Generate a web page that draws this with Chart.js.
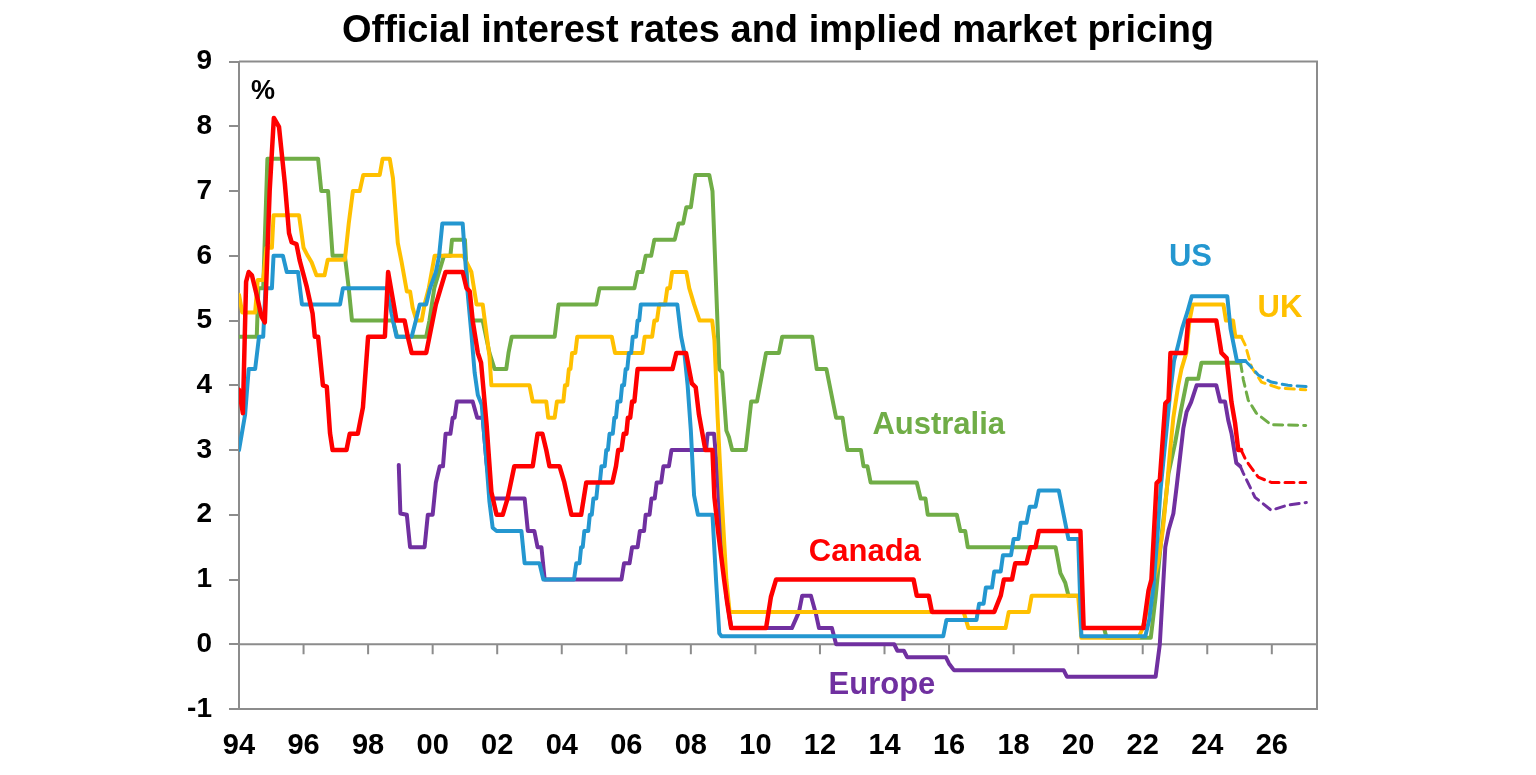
<!DOCTYPE html>
<html>
<head>
<meta charset="utf-8">
<script src="https://cdn.jsdelivr.net/npm/chart.js@4.4.1/dist/chart.umd.min.js"></script>
<style>
  html, body { margin: 0; padding: 0; background: #fff; }
  #wrap { width: 1536px; height: 775px; position: relative; }
</style>
</head>
<body>
<div id="wrap"><canvas id="myChart" width="1536" height="775"></canvas></div>
<script>
// policy rates, [year, %]
const usRate = [[1994.00,3.00],[1994.19,3.55],[1994.30,4.25],[1994.50,4.25],[1994.62,4.75],[1994.75,4.75],[1994.82,5.50],[1995.02,5.50],[1995.07,6.00],[1995.36,6.00],[1995.48,5.75],[1995.83,5.75],[1995.95,5.25],[1997.13,5.25],[1997.22,5.50],[1998.58,5.50],[1998.73,5.10],[1998.88,4.75],[1999.35,4.75],[1999.48,5.00],[1999.60,5.25],[1999.80,5.25],[1999.92,5.50],[2000.10,5.75],[2000.20,6.00],[2000.30,6.50],[2000.93,6.50],[2001.00,6.00],[2001.08,5.45],[2001.20,4.80],[2001.30,4.20],[2001.40,3.85],[2001.52,3.70],[2001.67,2.80],[2001.76,2.20],[2001.86,1.80],[2001.98,1.75],[2002.75,1.75],[2002.85,1.25],[2003.31,1.25],[2003.43,1.00],[2004.38,1.00],[2004.45,1.25],[2004.55,1.25],[2004.60,1.50],[2004.65,1.50],[2004.70,1.75],[2004.82,1.75],[2004.87,2.00],[2004.93,2.00],[2004.98,2.25],[2005.07,2.25],[2005.12,2.50],[2005.18,2.50],[2005.23,2.75],[2005.33,2.75],[2005.38,3.00],[2005.43,3.00],[2005.48,3.25],[2005.58,3.25],[2005.63,3.50],[2005.68,3.50],[2005.73,3.75],[2005.82,3.75],[2005.87,4.00],[2005.93,4.00],[2005.98,4.25],[2006.03,4.25],[2006.08,4.50],[2006.15,4.50],[2006.20,4.75],[2006.30,4.75],[2006.35,5.00],[2006.40,5.00],[2006.45,5.25],[2007.58,5.25],[2007.70,4.75],[2007.80,4.50],[2007.90,4.00],[2008.00,3.30],[2008.10,2.30],[2008.22,2.00],[2008.67,2.00],[2008.78,1.00],[2008.88,0.17],[2008.95,0.125],[2015.82,0.125],[2015.92,0.375],[2016.85,0.375],[2016.93,0.625],[2017.07,0.625],[2017.14,0.875],[2017.33,0.875],[2017.40,1.125],[2017.60,1.125],[2017.67,1.375],[2017.92,1.375],[2018.00,1.625],[2018.15,1.625],[2018.22,1.875],[2018.40,1.875],[2018.50,2.125],[2018.68,2.125],[2018.78,2.375],[2019.40,2.375],[2019.50,2.125],[2019.60,1.875],[2019.70,1.625],[2020.00,1.625],[2020.10,0.125],[2022.08,0.125],[2022.20,0.375],[2022.33,0.875],[2022.45,1.625],[2022.55,2.375],[2022.70,3.125],[2022.85,3.875],[2022.97,4.375],[2023.10,4.625],[2023.22,4.875],[2023.38,5.125],[2023.52,5.375],[2024.62,5.375],[2024.72,4.875],[2024.82,4.625],[2024.92,4.375],[2025.18,4.375]];
const usPricing = [[2025.18,4.375],[2025.37,4.28],[2025.58,4.16],[2025.98,4.05],[2026.50,4.00],[2027.07,3.98]];

const ukRate = [[1994.00,5.40],[1994.10,5.125],[1994.50,5.125],[1994.58,5.625],[1994.75,5.625],[1994.85,6.125],[1995.02,6.125],[1995.07,6.625],[1995.86,6.625],[1996.00,6.125],[1996.13,6.00],[1996.25,5.90],[1996.40,5.70],[1996.65,5.70],[1996.75,5.94],[1997.28,5.94],[1997.40,6.50],[1997.53,7.00],[1997.74,7.00],[1997.85,7.25],[1998.36,7.25],[1998.45,7.50],[1998.67,7.50],[1998.77,7.20],[1998.92,6.20],[1999.04,5.90],[1999.20,5.45],[1999.30,5.45],[1999.38,5.20],[1999.50,5.00],[1999.66,5.00],[1999.75,5.25],[1999.88,5.50],[1999.97,5.75],[2000.06,6.00],[2000.95,6.00],[2001.20,5.75],[2001.36,5.25],[2001.55,5.25],[2001.76,4.45],[2001.82,4.00],[2003.00,4.00],[2003.10,3.75],[2003.52,3.75],[2003.58,3.50],[2003.78,3.50],[2003.85,3.75],[2004.05,3.75],[2004.10,4.00],[2004.17,4.00],[2004.22,4.25],[2004.27,4.25],[2004.32,4.50],[2004.42,4.50],[2004.48,4.75],[2005.55,4.75],[2005.65,4.50],[2006.50,4.50],[2006.57,4.75],[2006.80,4.75],[2006.87,5.00],[2006.95,5.00],[2007.02,5.25],[2007.20,5.25],[2007.27,5.50],[2007.35,5.50],[2007.42,5.75],[2007.86,5.75],[2007.95,5.50],[2008.10,5.25],[2008.27,5.00],[2008.66,5.00],[2008.73,4.70],[2008.83,3.50],[2008.95,2.30],[2009.10,1.00],[2009.20,0.50],[2016.45,0.50],[2016.60,0.25],[2017.75,0.25],[2017.85,0.50],[2018.47,0.50],[2018.56,0.75],[2020.00,0.75],[2020.10,0.10],[2021.87,0.10],[2022.00,0.25],[2022.12,0.50],[2022.22,0.75],[2022.35,1.00],[2022.47,1.25],[2022.62,1.75],[2022.72,2.25],[2022.85,3.00],[2022.95,3.50],[2023.10,4.00],[2023.20,4.25],[2023.35,4.50],[2023.45,5.00],[2023.55,5.25],[2024.50,5.25],[2024.58,5.00],[2024.80,5.00],[2024.87,4.75],[2025.05,4.75]];
const ukPricing = [[2025.05,4.75],[2025.18,4.62],[2025.37,4.28],[2025.68,4.05],[2026.20,3.96],[2027.05,3.93]];

const ausRate = [[1994.00,4.75],[1994.55,4.75],[1994.60,5.50],[1994.75,5.50],[1994.88,7.50],[1996.45,7.50],[1996.55,7.00],[1996.76,7.00],[1996.90,6.00],[1997.28,6.00],[1997.40,5.50],[1997.50,5.00],[1998.77,5.00],[1998.90,4.75],[1999.80,4.75],[1999.90,5.00],[2000.05,5.50],[2000.20,5.75],[2000.35,6.00],[2000.55,6.00],[2000.60,6.25],[2001.00,6.25],[2001.08,5.50],[2001.22,5.00],[2001.55,5.00],[2001.76,4.50],[2001.92,4.25],[2002.28,4.25],[2002.35,4.50],[2002.45,4.75],[2003.78,4.75],[2003.90,5.25],[2005.07,5.25],[2005.17,5.50],[2006.25,5.50],[2006.35,5.75],[2006.50,5.75],[2006.60,6.00],[2006.77,6.00],[2006.87,6.25],[2007.50,6.25],[2007.62,6.50],[2007.76,6.50],[2007.86,6.75],[2008.00,6.75],[2008.14,7.25],[2008.57,7.25],[2008.67,7.00],[2008.88,4.25],[2008.97,4.20],[2009.10,3.30],[2009.18,3.20],[2009.28,3.00],[2009.70,3.00],[2009.87,3.75],[2010.05,3.75],[2010.33,4.50],[2010.73,4.50],[2010.83,4.75],[2011.76,4.75],[2011.90,4.25],[2012.20,4.25],[2012.50,3.50],[2012.70,3.50],[2012.77,3.25],[2012.85,3.00],[2013.27,3.00],[2013.35,2.75],[2013.47,2.75],[2013.57,2.50],[2015.00,2.50],[2015.12,2.25],[2015.27,2.25],[2015.34,2.00],[2016.24,2.00],[2016.35,1.75],[2016.50,1.75],[2016.58,1.50],[2019.30,1.50],[2019.45,1.10],[2019.60,0.95],[2019.70,0.75],[2020.05,0.75],[2020.15,0.25],[2020.80,0.25],[2020.88,0.10],[2022.25,0.10],[2022.40,0.73],[2022.58,1.65],[2022.80,2.64],[2023.00,3.10],[2023.18,3.60],[2023.30,3.90],[2023.38,4.10],[2023.72,4.10],[2023.82,4.35],[2025.03,4.35]];
const ausPricing = [[2025.03,4.35],[2025.12,4.08],[2025.27,3.77],[2025.52,3.57],[2025.98,3.39],[2027.05,3.38]];

const canRate = [[1994.00,3.93],[1994.12,3.57],[1994.22,5.60],[1994.30,5.75],[1994.40,5.70],[1994.55,5.39],[1994.70,5.06],[1994.80,4.97],[1994.95,7.00],[1995.08,8.13],[1995.24,7.99],[1995.42,7.12],[1995.55,6.35],[1995.63,6.21],[1995.78,6.18],[1995.88,5.93],[1996.10,5.52],[1996.28,5.11],[1996.35,4.75],[1996.45,4.75],[1996.60,4.00],[1996.72,3.98],[1996.82,3.26],[1996.90,3.00],[1997.33,3.00],[1997.43,3.25],[1997.68,3.25],[1997.84,3.66],[1998.00,4.75],[1998.52,4.75],[1998.62,5.75],[1998.77,5.32],[1998.88,5.00],[1999.13,5.00],[1999.23,4.75],[1999.35,4.50],[1999.80,4.50],[1999.90,4.75],[2000.00,5.00],[2000.10,5.25],[2000.25,5.50],[2000.40,5.75],[2000.93,5.75],[2001.05,5.50],[2001.15,5.45],[2001.24,5.00],[2001.40,4.50],[2001.50,4.35],[2001.67,3.40],[2001.82,2.35],[2001.98,2.00],[2002.17,2.00],[2002.32,2.25],[2002.53,2.75],[2003.10,2.75],[2003.25,3.25],[2003.40,3.25],[2003.52,3.00],[2003.62,2.75],[2003.93,2.75],[2004.08,2.50],[2004.30,2.00],[2004.60,2.00],[2004.76,2.50],[2005.57,2.50],[2005.68,2.75],[2005.75,3.00],[2005.85,3.00],[2005.92,3.25],[2006.00,3.25],[2006.05,3.50],[2006.12,3.50],[2006.18,3.75],[2006.25,3.75],[2006.30,4.00],[2006.35,4.25],[2007.43,4.25],[2007.55,4.50],[2007.85,4.50],[2008.03,4.03],[2008.15,3.97],[2008.25,3.55],[2008.45,3.00],[2008.67,3.00],[2008.73,2.27],[2008.85,1.72],[2009.03,1.00],[2009.13,0.63],[2009.25,0.25],[2010.33,0.25],[2010.48,0.73],[2010.64,1.00],[2014.90,1.00],[2015.00,0.75],[2015.37,0.75],[2015.47,0.50],[2017.40,0.50],[2017.60,0.75],[2017.70,1.00],[2017.95,1.00],[2018.05,1.25],[2018.40,1.25],[2018.52,1.50],[2018.68,1.50],[2018.78,1.75],[2020.07,1.75],[2020.17,0.25],[2022.02,0.25],[2022.18,0.83],[2022.27,1.00],[2022.43,2.49],[2022.53,2.54],[2022.70,3.72],[2022.80,3.77],[2022.86,4.50],[2023.32,4.50],[2023.41,5.00],[2024.28,5.00],[2024.44,4.50],[2024.60,4.42],[2024.75,3.74],[2024.86,3.42],[2024.96,3.00],[2025.05,3.00]];
const canPricing = [[2025.05,3.00],[2025.20,2.84],[2025.58,2.58],[2025.98,2.50],[2027.05,2.50]];

const eurRate = [[1998.95,2.77],[1999.00,2.02],[1999.20,2.00],[1999.30,1.50],[1999.75,1.50],[1999.85,2.00],[2000.00,2.00],[2000.10,2.50],[2000.22,2.75],[2000.32,2.75],[2000.40,3.25],[2000.55,3.25],[2000.62,3.50],[2000.68,3.50],[2000.75,3.75],[2001.24,3.75],[2001.38,3.50],[2001.55,3.50],[2001.67,2.80],[2001.82,2.25],[2002.85,2.25],[2002.95,1.75],[2003.15,1.75],[2003.25,1.50],[2003.37,1.50],[2003.47,1.00],[2005.85,1.00],[2005.93,1.25],[2006.10,1.25],[2006.18,1.50],[2006.35,1.50],[2006.42,1.75],[2006.55,1.75],[2006.60,2.00],[2006.72,2.00],[2006.78,2.25],[2006.88,2.25],[2006.94,2.50],[2007.08,2.50],[2007.15,2.75],[2007.32,2.75],[2007.40,3.00],[2008.47,3.00],[2008.52,3.25],[2008.72,3.25],[2008.80,2.75],[2008.90,2.00],[2009.00,1.50],[2009.10,0.75],[2009.25,0.25],[2011.13,0.25],[2011.35,0.50],[2011.45,0.75],[2011.72,0.75],[2011.87,0.48],[2011.97,0.25],[2012.37,0.25],[2012.50,0.00],[2014.30,0.00],[2014.40,-0.10],[2014.60,-0.10],[2014.70,-0.20],[2015.90,-0.20],[2016.00,-0.30],[2016.15,-0.40],[2019.55,-0.40],[2019.65,-0.50],[2022.40,-0.50],[2022.53,0.00],[2022.70,1.50],[2022.80,1.76],[2022.95,2.02],[2023.05,2.43],[2023.17,2.95],[2023.26,3.34],[2023.36,3.59],[2023.50,3.74],[2023.67,4.00],[2024.28,4.00],[2024.40,3.75],[2024.55,3.75],[2024.65,3.46],[2024.75,3.26],[2024.90,2.80],[2025.02,2.75]];
const eurPricing = [[2025.02,2.75],[2025.12,2.64],[2025.48,2.27],[2025.98,2.07],[2026.50,2.15],[2027.07,2.19]];

const xTicks = [1994, 1996, 1998, 2000, 2002, 2004, 2006, 2008, 2010, 2012, 2014, 2016, 2018, 2020, 2022, 2024, 2026];

// series name labels, placed in data units
const seriesLabels = [
    { text: '%', x: 1994.74, y: 8.53, color: '#000000' },
    { text: 'US', x: 2023.48, y: 5.98, color: '#2497d0' },
    { text: 'UK', x: 2026.25, y: 5.18, color: '#ffc000' },
    { text: 'Australia', x: 2015.68, y: 3.38, color: '#70ad47' },
    { text: 'Canada', x: 2013.39, y: 1.42, color: '#ff0000' },
    { text: 'Europe', x: 2013.92, y: -0.63, color: '#7030a0' }
];

const FONT = "'Liberation Sans', Arial, sans-serif";
const AXIS_GREY = '#8c8c8c';
Chart.defaults.font.family = FONT;

function pts(arr) {
    return arr.map(function(p) { return { x: p[0], y: p[1] }; });
}

function solid(label, arr, color, order, width) {
    return { label: label, data: pts(arr), borderColor: color, borderWidth: width || 4, order: order };
}

function dashed(label, arr, color, order) {
    return { label: label, data: pts(arr), borderColor: color, borderWidth: 3, borderDash: [9, 6], order: order };
}

// box border, zero line and its ticks, plus the series names
const framePlugin = {
    id: 'frame',
    beforeDatasetsDraw(chart) {
        const c = chart.ctx, a = chart.chartArea;
        const xs = chart.scales.x, ys = chart.scales.y;
        c.save();
        c.strokeStyle = AXIS_GREY;
        c.lineWidth = 2;
        c.beginPath();
        c.moveTo(a.left, a.top);
        c.lineTo(a.right, a.top);
        c.lineTo(a.right, a.bottom);
        c.stroke();
        const y0 = ys.getPixelForValue(0);
        c.beginPath();
        c.moveTo(a.left, y0);
        c.lineTo(a.right, y0);
        xTicks.forEach(function(t) {
            const px = xs.getPixelForValue(t);
            c.moveTo(px, y0);
            c.lineTo(px, y0 + 10);
        });
        c.stroke();
        c.restore();
    },
    afterDatasetsDraw(chart) {
        const c = chart.ctx;
        const xs = chart.scales.x, ys = chart.scales.y;
        c.save();
        c.textAlign = 'center';
        c.textBaseline = 'middle';
        seriesLabels.forEach(function(l) {
            c.fillStyle = l.color;
            c.font = (l.text === '%' ? 'bold 27px ' : 'bold 31px ') + FONT;
            c.fillText(l.text, xs.getPixelForValue(l.x), ys.getPixelForValue(l.y));
        });
        c.restore();
    }
};

let ctx = document.getElementById('myChart');

let myChart = new Chart(ctx, {
    type: 'line',
    data: {
        datasets: [
            solid('Canada', canRate, '#ff0000', 1, 4.5),
            solid('US', usRate, '#2497d0', 2),
            solid('UK', ukRate, '#ffc000', 3),
            solid('Australia', ausRate, '#70ad47', 4),
            solid('Europe', eurRate, '#7030a0', 5),
            dashed('Canada pricing', canPricing, '#ff0000', 6),
            dashed('US pricing', usPricing, '#2497d0', 7),
            dashed('UK pricing', ukPricing, '#ffc000', 8),
            dashed('Australia pricing', ausPricing, '#70ad47', 9),
            dashed('Europe pricing', eurPricing, '#7030a0', 10)
        ]
    },
    options: {
        responsive: false,
        animation: false,
        devicePixelRatio: 1,
        layout: {
            padding: { left: 179, right: 219, top: 0, bottom: 0 }
        },
        elements: {
            point: { radius: 0 },
            line: { tension: 0, borderJoinStyle: 'round', borderCapStyle: 'round', fill: false }
        },
        plugins: {
            legend: { display: false },
            tooltip: { enabled: false },
            title: {
                display: true,
                fullSize: false,
                text: 'Official interest rates and implied market pricing',
                color: '#000000',
                font: { size: 38, weight: 'bold' },
                padding: { top: 9, bottom: 7 }
            }
        },
        scales: {
            x: {
                type: 'linear',
                min: 1994,
                max: 2027.4,
                grid: { display: false, drawTicks: false },
                border: { display: true, color: AXIS_GREY, width: 2 },
                afterFit: function(scale) { scale.height = 66; },
                ticks: {
                    stepSize: 2,
                    includeBounds: false,
                    autoSkip: false,
                    maxRotation: 0,
                    padding: 20,
                    color: '#000000',
                    font: { size: 29, weight: 'bold' },
                    callback: function(v) { return String(v % 100).padStart(2, '0'); }
                }
            },
            y: {
                min: -1,
                max: 9,
                afterFit: function(scale) { scale.width = 60; },
                grid: {
                    drawOnChartArea: false,
                    drawTicks: true,
                    tickLength: 10,
                    color: AXIS_GREY,
                    lineWidth: 2
                },
                border: { display: true, color: AXIS_GREY, width: 2 },
                ticks: {
                    stepSize: 1,
                    padding: 17,
                    color: '#000000',
                    font: { size: 28, weight: 'bold' }
                }
            }
        }
    },
    plugins: [framePlugin]
});
</script>
</body>
</html>
